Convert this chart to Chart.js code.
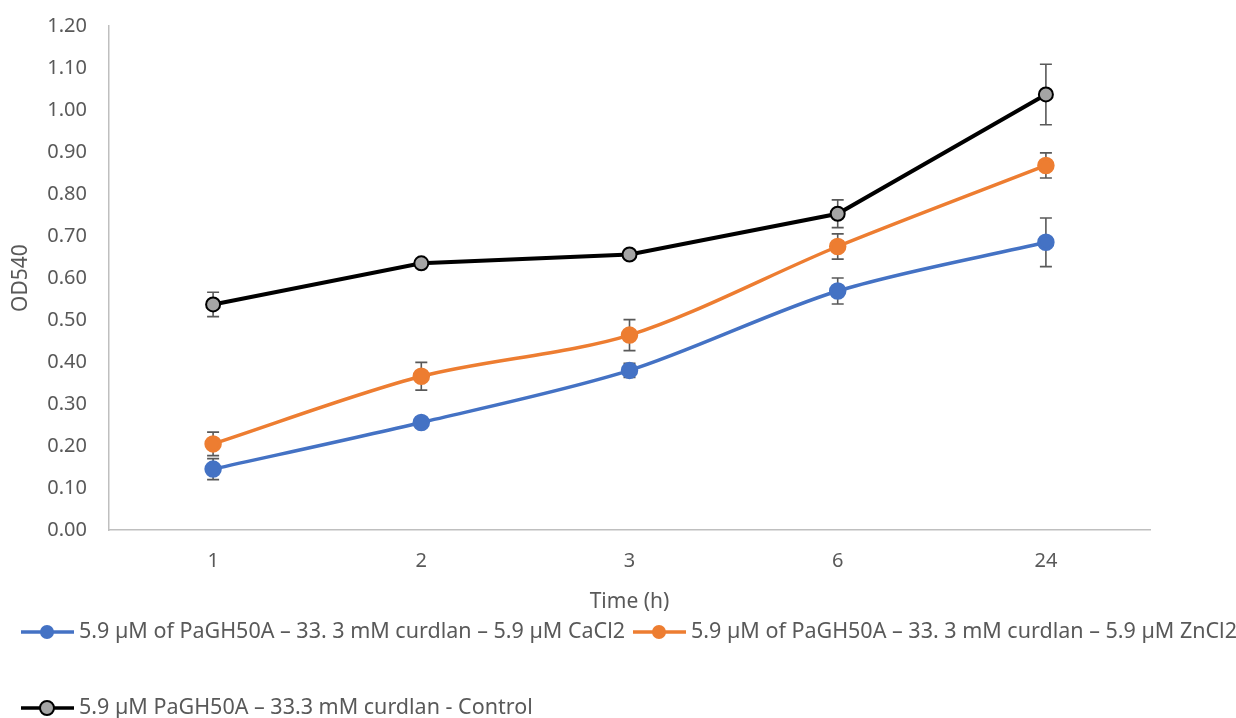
<!DOCTYPE html>
<html>
<head>
<meta charset="utf-8">
<script src="https://cdn.jsdelivr.net/npm/chart.js@4/dist/chart.umd.min.js"></script>
<style>
  html, body { margin: 0; padding: 0; background: #fff; }
  #wrap { width: 1236px; height: 718px; position: relative; }
</style>
</head>
<body>
<div id="wrap"><canvas id="od_chart"></canvas></div>
<script>
var FONT = "'Noto Sans', sans-serif";

var timeLabels = ["1", "2", "3", "6", "24"];
var yTicks = [0, 0.1, 0.2, 0.3, 0.4, 0.5, 0.6, 0.7, 0.8, 0.9, 1.0, 1.1, 1.2];

var seriesNames = [
    "5.9 µM of PaGH50A – 33. 3 mM curdlan – 5.9 µM CaCl2",
    "5.9 µM of PaGH50A – 33. 3 mM curdlan – 5.9 µM ZnCl2",
    "5.9 µM PaGH50A – 33.3 mM curdlan - Control"
];
var cacl2Values = [0.145, 0.256, 0.380, 0.569, 0.685];
var cacl2Errors = [0.025, 0.004, 0.017, 0.031, 0.058];
var zncl2Values = [0.205, 0.366, 0.464, 0.675, 0.868];
var zncl2Errors = [0.028, 0.033, 0.037, 0.030, 0.030];
var controlValues = [0.537, 0.635, 0.656, 0.753, 1.037];
var controlErrors = [0.029, 0.004, 0.004, 0.033, 0.072];

var errorSets = [cacl2Errors, zncl2Errors, controlErrors];

// error bars, drawn under the markers
var errorBars = {
    id: 'errorBars',
    beforeDatasetsDraw: function(chart) {
        var ctx = chart.ctx;
        var y = chart.scales.y;
        ctx.save();
        ctx.strokeStyle = '#595959';
        ctx.lineWidth = 1.6;
        chart.data.datasets.forEach(function(ds, i) {
            var meta = chart.getDatasetMeta(i);
            meta.data.forEach(function(pt, j) {
                var e = errorSets[i][j];
                var top = y.getPixelForValue(ds.data[j] + e);
                var bot = y.getPixelForValue(ds.data[j] - e);
                ctx.beginPath();
                ctx.moveTo(pt.x, top); ctx.lineTo(pt.x, bot);
                ctx.moveTo(pt.x - 6, top); ctx.lineTo(pt.x + 6, top);
                ctx.moveTo(pt.x - 6, bot); ctx.lineTo(pt.x + 6, bot);
                ctx.stroke();
            });
        });
        ctx.restore();
    }
};

// legend laid out like the excel one: two items, then a wide gap, then the third
var bottomLegend = {
    id: 'bottomLegend',
    afterDraw: function(chart) {
        var ctx = chart.ctx;
        var rows = [[0, 1], [2]];
        var rowY = [632, 708];
        ctx.save();
        ctx.font = '21.5px ' + FONT;
        ctx.textBaseline = 'middle';
        rows.forEach(function(row, r) {
            var x = 21;
            row.forEach(function(i) {
                var ds = chart.data.datasets[i];
                var yy = rowY[r];
                ctx.strokeStyle = ds.borderColor;
                ctx.lineWidth = 3.5;
                ctx.beginPath();
                ctx.moveTo(x, yy); ctx.lineTo(x + 53, yy);
                ctx.stroke();
                ctx.beginPath();
                ctx.arc(x + 26, yy, 7, 0, Math.PI * 2);
                ctx.fillStyle = ds.pointBackgroundColor;
                ctx.fill();
                if (ds.pointBorderColor !== ds.pointBackgroundColor) {
                    ctx.lineWidth = 2;
                    ctx.strokeStyle = ds.pointBorderColor;
                    ctx.stroke();
                }
                ctx.fillStyle = '#595959';
                ctx.fillText(ds.label, x + 58, yy);
                x += 58 + ctx.measureText(ds.label).width + 8;
            });
        });
        ctx.restore();
    }
};

new Chart(document.getElementById("od_chart"), {
    type: 'line',
    data: {
        labels: timeLabels,
        datasets: [
            {
                label: seriesNames[0],
                data: cacl2Values,
                borderColor: '#4472C4',
                pointBackgroundColor: '#4472C4',
                pointBorderColor: '#4472C4',
                borderWidth: 3.5,
                pointRadius: 7,
                tension: 0.3,
                fill: false
            },
            {
                label: seriesNames[1],
                data: zncl2Values,
                borderColor: '#ED7D31',
                pointBackgroundColor: '#ED7D31',
                pointBorderColor: '#ED7D31',
                borderWidth: 3.5,
                pointRadius: 7,
                tension: 0.3,
                fill: false
            },
            {
                label: seriesNames[2],
                data: controlValues,
                borderColor: '#000000',
                pointBackgroundColor: '#A5A5A5',
                pointBorderColor: '#000000',
                pointBorderWidth: 2,
                borderWidth: 4,
                pointRadius: 7,
                tension: 0,
                fill: false
            }
        ]
    },
    options: {
        responsive: true,
        maintainAspectRatio: false,
        animation: false,
        layout: { padding: { left: 0, right: 86, top: 9, bottom: 103 } },
        plugins: {
            legend: { display: false },
            tooltip: { enabled: false }
        },
        scales: {
            x: {
                offset: true,
                grid: { display: false },
                border: { display: true, color: '#BFBFBF', width: 1.5 },
                ticks: { color: '#595959', font: { family: FONT, size: 20 }, padding: 11 },
                title: {
                    display: true, text: 'Time (h)', color: '#595959',
                    font: { family: FONT, size: 21 }, padding: { top: 0, bottom: 0 }
                },
                afterFit: function(s) { s.height = 85; }
            },
            y: {
                min: 0, max: 1.2,
                grid: { display: false },
                border: { display: true, color: '#BFBFBF', width: 1.5 },
                afterBuildTicks: function(s) {
                    s.ticks = yTicks.map(function(v) { return { value: v }; });
                },
                ticks: {
                    color: '#595959', font: { family: FONT, size: 20 }, padding: 14,
                    callback: function(v) { return Number(v).toFixed(2); }
                },
                title: {
                    display: true, text: 'OD540', color: '#595959',
                    font: { family: FONT, size: 21 }, padding: { top: 8, bottom: 0 }
                },
                afterFit: function(s) { s.width = 109; }
            }
        }
    },
    plugins: [errorBars, bottomLegend]
});
</script>
</body>
</html>
